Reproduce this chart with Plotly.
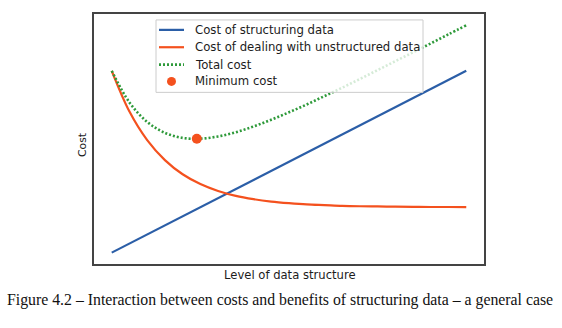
import plotly.graph_objects as go

# Level of data structure (arbitrary units)
level = [0, 0.5, 1, 1.5, 2, 2.5, 3, 3.5, 4, 4.5, 5,
         5.5, 6, 6.5, 7, 7.5, 8, 8.5, 9, 9.5, 10]

# Cost curves
cost_structuring = [0, 0.5, 1, 1.5, 2, 2.5, 3, 3.5, 4, 4.5, 5,
                    5.5, 6, 6.5, 7, 7.5, 8, 8.5, 9, 9.5, 10]
cost_unstructured = [10.00, 7.76, 6.19, 5.09, 4.31, 3.77, 3.39, 3.12, 2.94, 2.81, 2.72,
                     2.65, 2.61, 2.57, 2.55, 2.54, 2.53, 2.52, 2.51, 2.51, 2.50]
total_cost = [10.00, 8.26, 7.19, 6.59, 6.31, 6.27, 6.39, 6.62, 6.94, 7.31, 7.72,
              8.15, 8.61, 9.07, 9.55, 10.04, 10.53, 11.02, 11.51, 12.01, 12.50]

# Minimum of the total cost
min_level = [2.4]
min_cost = [6.26]

names = ["Cost of structuring data", "Cost of dealing with unstructured data",
         "Total cost", "Minimum cost"]

BLUE = "#2b5ea7"
ORANGE = "#f4511e"
GREEN = "#2e9a3a"
SANS = "DejaVu Sans"
TEXT = "#1c1c1c"
DOT = "2px,2px"

# Figure geometry (pixels)
W, H = 562, 328
ML, MR, MT, MB = 94, 78, 12, 64
PW, PH = W - ML - MR, H - MT - MB


def px(xp):
    """Horizontal pixel -> paper coordinate."""
    return (xp - ML) / PW


def py(yp):
    """Vertical pixel -> paper coordinate."""
    return (H - MB - yp) / PH


fig = go.Figure()
fig.add_trace(go.Scatter(x=level, y=cost_structuring, mode="lines", name=names[0],
                         line=dict(color=BLUE, width=2.2)))
fig.add_trace(go.Scatter(x=level, y=cost_unstructured, mode="lines", name=names[1],
                         line=dict(color=ORANGE, width=2.2, shape="spline")))
fig.add_trace(go.Scatter(x=level, y=total_cost, mode="lines", name=names[2],
                         line=dict(color=GREEN, width=2.6, dash=DOT, shape="spline")))
fig.add_trace(go.Scatter(x=min_level, y=min_cost, mode="markers", name=names[3],
                         marker=dict(color=ORANGE, size=10)))

pad_x = 0.05 * (max(level) - min(level))
y_lo = min(cost_structuring)
y_hi = max(total_cost)
pad_y = 0.05 * (y_hi - y_lo)

axis_common = dict(showgrid=False, zeroline=False, showticklabels=False, ticks="",
                   showline=True, mirror=True, linecolor="#444", linewidth=1.6)

# Legend box drawn with shapes so its rows can sit close together
box_l, box_r, box_t, box_b = 156, 423, 18, 91
row_y = [28, 45.5, 63, 80]
sample_x0, sample_x1, text_x = 159, 184, 193

shapes = [dict(type="rect", xref="paper", yref="paper", layer="above",
               x0=px(box_l), x1=px(box_r), y0=py(box_b), y1=py(box_t),
               fillcolor="rgba(255,255,255,0.8)", line=dict(color="#cccccc", width=1))]
sample_styles = [dict(color=BLUE, width=2.2), dict(color=ORANGE, width=2.2),
                 dict(color=GREEN, width=2.6, dash=DOT)]
for ry, style in zip(row_y[:3], sample_styles):
    shapes.append(dict(type="line", xref="paper", yref="paper", layer="above",
                       x0=px(sample_x0), x1=px(sample_x1), y0=py(ry), y1=py(ry),
                       line=style))
mx, r = (sample_x0 + sample_x1) / 2, 4.5
shapes.append(dict(type="circle", xref="paper", yref="paper", layer="above",
                   x0=px(mx - r), x1=px(mx + r), y0=py(row_y[3] + r), y1=py(row_y[3] - r),
                   fillcolor=ORANGE, line=dict(width=0)))

annotations = [
    dict(text=name, xref="paper", yref="paper", x=px(text_x), y=py(ry),
         xanchor="left", yanchor="middle", showarrow=False,
         font=dict(family=SANS, size=11.7, color=TEXT))
    for name, ry in zip(names, row_y)
]
annotations += [
    dict(text="Level of data structure", xref="paper", yref="paper",
         x=px(289.5), y=py(275), xanchor="center", yanchor="middle", showarrow=False,
         font=dict(family=SANS, size=11.6, color=TEXT)),
    dict(text="Cost", xref="paper", yref="paper", textangle=-90,
         x=px(83), y=py(144), xanchor="center", yanchor="middle", showarrow=False,
         font=dict(family=SANS, size=10.8, color=TEXT)),
    dict(text="Figure 4.2 \u2013 Interaction between costs and benefits of structuring data \u2013 a general case",
         xref="paper", yref="paper", x=px(280), y=py(300),
         xanchor="center", yanchor="middle", showarrow=False,
         font=dict(family="Liberation Serif", size=15.8, color="#111")),
]

fig.update_layout(
    width=W, height=H,
    margin=dict(l=ML, r=MR, t=MT, b=MB),
    paper_bgcolor="white", plot_bgcolor="white",
    xaxis=dict(range=[min(level) - pad_x, max(level) + pad_x], **axis_common),
    yaxis=dict(range=[y_lo - pad_y, y_hi + pad_y], **axis_common),
    showlegend=False,
    shapes=shapes,
    annotations=annotations,
)

fig.write_html("out.html")
